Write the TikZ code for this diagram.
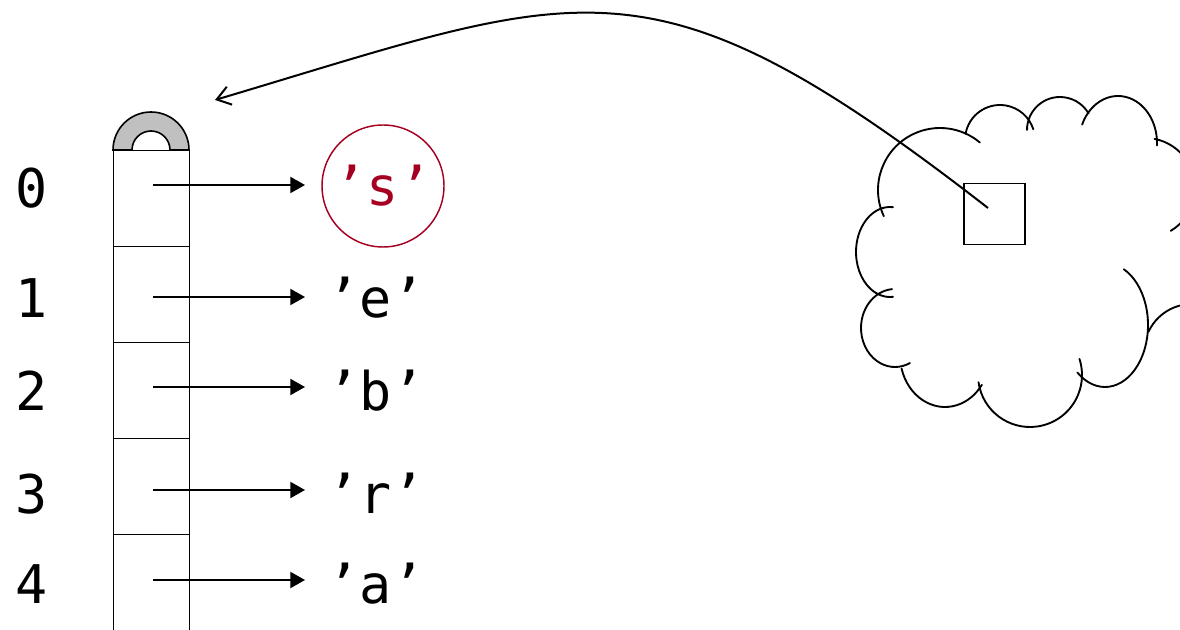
\documentclass[tikz,border=0pt]{standalone}
\usepackage{fontspec}
\newfontfamily\monofont{DejaVu Sans Mono}
\usetikzlibrary{arrows.meta}
\definecolor{darkred}{RGB}{165,0,33}
\definecolor{capgray}{RGB}{192,192,192}
\begin{document}
\begin{tikzpicture}[x=0.75pt,y=-0.75pt,
  txt/.style={font=\monofont\fontsize{40}{48}\selectfont, inner sep=0pt},
  cell/.style={draw, line width=0.9pt, minimum width=57pt, minimum height=72pt, inner sep=0pt},
  ptrarrow/.style={line width=1.5pt, -{Triangle[length=11pt,width=12pt]}},
  puff/.style={line width=1.4pt, line cap=round}]
\useasboundingbox (0,0) rectangle (1180,630);
% cap
\draw[line width=1.2pt, fill=capgray] (113,150) arc[start angle=180, end angle=360, radius=38] -- (170,150) arc[start angle=360, end angle=180, radius=19] -- cycle;
% cells
\foreach \i in {0,...,3} {
  \node[cell, anchor=north west] (c\i) at (113,{150+96*\i}) {};
}
\node[cell, anchor=north west, minimum height=78pt] (c4) at (113,534) {};
% index labels
\node[txt, anchor=base] (i0) at (32,208) {0};
\node[txt, anchor=base] (i1) at (32,318) {1};
\node[txt, anchor=base] (i2) at (32,410) {2};
\node[txt, anchor=base] (i3) at (32,513) {3};
\node[txt, anchor=base] (i4) at (32,603) {4};
% values
\node[txt, draw=darkred, text=darkred, circle, line width=1.1pt, minimum size=91.5pt] (v0) at (383,186) {’s’};
\node[txt, anchor=base] (v1) at (376,318) {’e’};
\node[txt, anchor=base] (v2) at (376,410) {’b’};
\node[txt, anchor=base] (v3) at (376,513) {’r’};
\node[txt, anchor=base] (v4) at (376,603) {’a’};
% pointer start coordinates
\coordinate (p0) at (153,185);
\coordinate (p1) at (153,297);
\coordinate (p2) at (153,387);
\coordinate (p3) at (153,490);
\coordinate (p4) at (153,580);
\coordinate (e0) at (305,185);
\coordinate (e1) at (305,297);
\coordinate (e2) at (305,387);
\coordinate (e3) at (305,490);
\coordinate (e4) at (305,580);
\foreach \i in {0,...,4} { \draw[ptrarrow] (p\i) -- (e\i); }
% cloud
\draw[puff] (940,190) ++(155:62 and 62) arc[start angle=155, end angle=310, x radius=62, y radius=62];
\draw[puff] (1000,140) ++(190:35 and 35) arc[start angle=190, end angle=342, x radius=35, y radius=35];
\draw[puff] (1060,130) ++(180:33 and 33) arc[start angle=180, end angle=330, x radius=33, y radius=33];
\draw[puff] (1118,143) ++(203:39 and 47) arc[start angle=203, end angle=363, x radius=39, y radius=47];
\draw[puff] (1145,188) ++(281:50 and 50) arc[start angle=281, end angle=419, x radius=50, y radius=50];
\draw[puff] (1192,352) ++(205:48 and 48) arc[start angle=205, end angle=290, x radius=48, y radius=48];
\draw[puff] (1105,325) ++(130:43 and 62) arc[start angle=130, end angle=-64, x radius=43, y radius=62];
\draw[puff] (1030,375) ++(172:52 and 52) arc[start angle=172, end angle=-18, x radius=52, y radius=52];
\draw[puff] (945,355) ++(165:45 and 52) arc[start angle=165, end angle=35, x radius=45, y radius=52];
\draw[puff] (895,328) ++(265:34 and 39) arc[start angle=265, end angle=64, x radius=34, y radius=39];
\draw[puff] (890,252) ++(275:34 and 45) arc[start angle=275, end angle=85, x radius=34, y radius=45];
% pointer box
\node[draw, line width=1.4pt, minimum size=45.75pt, inner sep=0pt] (box) at (994.5,214) {};
\coordinate (src) at (988,208);
\coordinate (dst) at (215,100);
\draw[line width=1.5pt, -{Straight Barb[length=10pt,width=14pt,line width=1.5pt]}] (src) .. controls (648,-56) and (585,-10) .. (dst);
\end{tikzpicture}
\end{document}
